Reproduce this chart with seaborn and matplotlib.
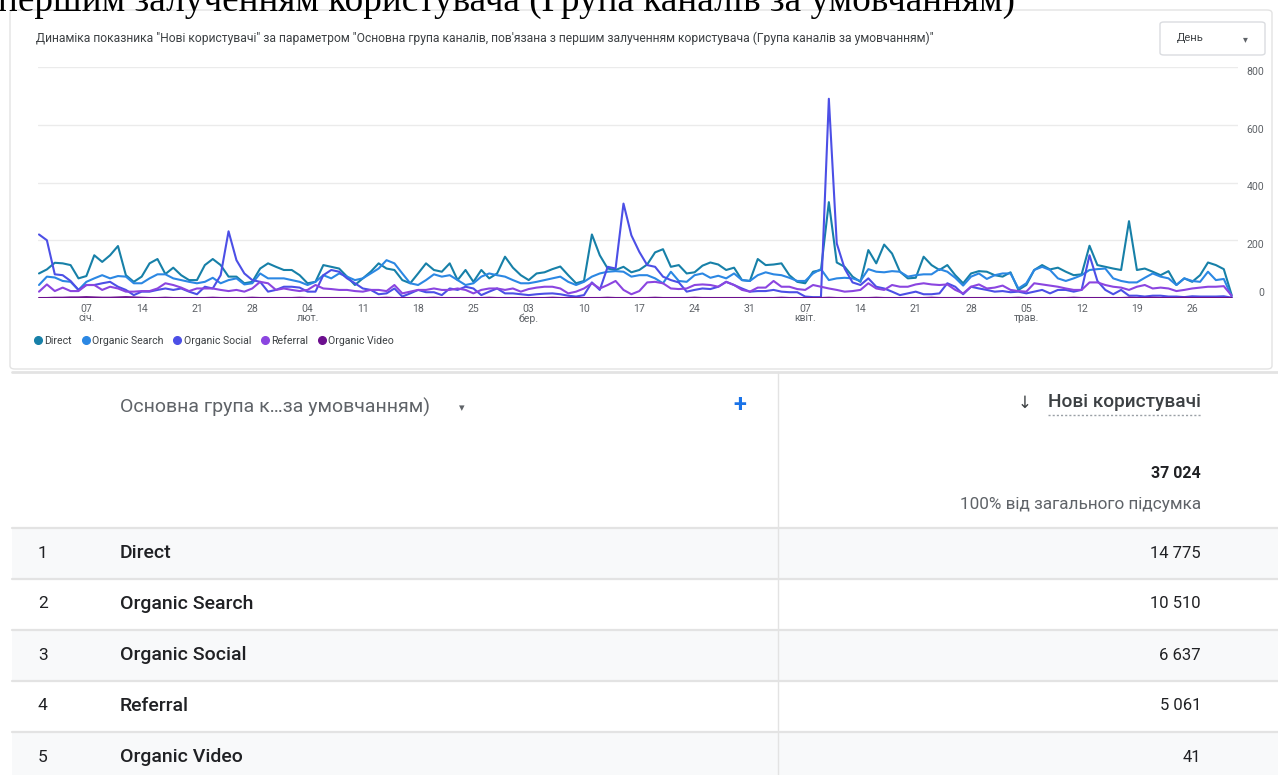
import numpy as np
import pandas as pd
import seaborn as sns
import matplotlib.pyplot as plt
from matplotlib.lines import Line2D
from matplotlib.patches import Rectangle, FancyBboxPatch

W, H = 1278, 775

# Дані з графіка (щоденні значення, 01.01 - 31.05.2024)
channels = ["Direct", "Organic Search", "Organic Social", "Referral", "Organic Video"]
colors = ["#1780a8", "#2b87e3", "#4c4fe6", "#8b45e0", "#6c0f8e"]
totals = ["14 775", "10 510", "6 637", "5 061", "41"]
total_all = "37 024"

direct = [85, 99, 122, 120, 114, 68, 76, 148, 125, 148, 180, 79, 56, 74, 120, 135, 83, 105, 79, 62,
          62, 114, 135, 114, 74, 74, 51, 56, 102, 120, 108,
          97, 97, 79, 51, 56, 114, 108, 102, 74, 45, 68, 91, 120, 102, 97, 62, 51, 85, 120, 97,
          91, 120, 62, 97, 56, 97, 68, 85, 143,
          105, 79, 62, 85, 89, 100, 109, 79, 51, 59, 220, 148, 102, 97, 108, 89, 97, 116, 158, 169,
          108, 114, 85, 89, 112, 123, 116, 97, 105, 62, 59,
          135, 114, 116, 120, 79, 56, 51, 91, 97, 332, 123, 108, 74, 56, 166, 120, 185, 154, 91, 68,
          70, 143, 114, 97, 114, 79, 51, 85, 93, 91, 79,
          74, 89, 28, 45, 97, 114, 99, 105, 91, 79, 82, 181, 114, 108, 102, 97, 266, 97, 102, 91,
          79, 93, 45, 68, 56, 79, 123, 114, 100, 10]
organic_search = [45, 74, 71, 59, 56, 28, 56, 68, 79, 68, 76, 74, 51, 51, 68, 82, 82, 68, 62, 56,
                  51, 56, 70, 51, 62, 68, 47, 51, 85, 68, 68,
                  68, 62, 56, 45, 56, 79, 68, 85, 74, 62, 68, 85, 102, 131, 120, 85, 51, 45, 62, 82,
                  74, 79, 62, 45, 51, 74, 85, 79, 74,
                  62, 51, 51, 56, 62, 68, 74, 56, 45, 56, 74, 85, 91, 93, 91, 74, 79, 79, 68, 51,
                  91, 59, 56, 79, 85, 70, 77, 68, 85, 62, 59,
                  79, 89, 82, 79, 70, 59, 59, 85, 100, 62, 68, 70, 68, 59, 100, 91, 89, 93, 91, 74,
                  79, 82, 82, 100, 91, 70, 43, 74, 85, 66, 79,
                  85, 85, 33, 51, 97, 108, 97, 68, 59, 68, 79, 97, 100, 102, 68, 59, 54, 54, 70, 85,
                  74, 68, 45, 68, 59, 56, 91, 62, 66, 5]
organic_social = [220, 200, 82, 79, 59, 28, 45, 45, 51, 56, 39, 28, 10, 22, 22, 28, 33, 28, 33, 22,
                  13, 39, 33, 79, 231, 131, 85, 62, 56, 22, 28,
                  39, 39, 36, 22, 22, 79, 97, 91, 68, 51, 33, 28, 13, 16, 33, 5, 16, 28, 20, 20,
                  10, 33, 28, 39, 33, 10, 22, 33, 16,
                  16, 13, 10, 13, 15, 16, 13, 8, 5, 10, 54, 28, 108, 102, 327, 217, 160, 114, 108, 74,
                  62, 54, 22, 28, 33, 31, 39, 56, 45, 33, 22,
                  24, 24, 28, 22, 20, 20, 5, 3, 3, 690, 189, 102, 54, 45, 68, 39, 33, 22, 10, 16,
                  22, 13, 13, 16, 51, 39, 13, 39, 33, 28, 22,
                  24, 20, 22, 16, 22, 28, 16, 28, 28, 22, 28, 148, 59, 28, 13, 28, 8, 8, 5, 8,
                  8, 5, 5, 3, 6, 5, 5, 5, 6, 1]
referral = [22, 47, 24, 36, 24, 24, 45, 45, 28, 39, 33, 22, 22, 24, 24, 33, 51, 45, 36, 24,
            33, 33, 33, 28, 24, 28, 22, 33, 56, 51, 28,
            33, 28, 24, 28, 45, 33, 31, 28, 28, 24, 22, 28, 28, 24, 45, 16, 22, 28, 28, 33,
            28, 28, 33, 28, 16, 28, 33, 33, 28,
            33, 22, 31, 36, 39, 39, 33, 16, 22, 33, 51, 33, 45, 59, 28, 13, 24, 54, 56, 51,
            33, 31, 33, 45, 47, 45, 39, 56, 45, 28, 22,
            36, 36, 59, 39, 39, 31, 28, 45, 39, 33, 28, 22, 24, 28, 51, 33, 28, 45, 39, 39,
            47, 51, 47, 45, 47, 28, 16, 39, 47, 33, 36,
            43, 28, 24, 22, 51, 47, 43, 39, 33, 28, 28, 54, 54, 45, 39, 36, 28, 39, 45, 33,
            36, 33, 24, 28, 33, 36, 39, 39, 41, 8]
organic_video = [0, 0, 1, 1, 2, 2, 3, 2, 1, 1, 2, 3, 2, 1, 0, 0, 1, 0, 0, 0,
                 0, 0, 1, 0, 0, 0, 0, 1, 0, 0, 0, 0, 0, 1, 0, 0, 0, 0, 0, 0,
                 0, 0, 0, 0, 1, 0, 0, 0, 0, 0, 1, 0, 0, 0, 0, 0, 0, 1, 0, 0,
                 0, 0, 0, 0, 0, 1, 0, 0, 0, 0, 0, 0, 1, 0, 0, 0, 0, 0, 1, 0,
                 0, 0, 0, 1, 0, 0, 0, 0, 0, 0, 0, 0, 0, 0, 1, 0, 0, 0, 0, 0,
                 1, 0, 0, 0, 0, 0, 1, 0, 0, 0, 0, 0, 0, 1, 0, 0, 0, 0, 0, 0,
                 0, 0, 0, 0, 1, 0, 0, 0, 0, 0, 0, 1, 0, 0, 0, 0, 0, 0, 1, 0,
                 0, 1, 0, 0, 0, 1, 0, 0, 0, 0, 0, 0]

dates = pd.date_range("2024-01-01", "2024-05-31", freq="D")
tick_dates = pd.date_range("2024-01-07", "2024-05-26", freq="7D")
month_names = {"2024-01-07": "січ.", "2024-02-04": "лют.", "2024-03-03": "бер.",
               "2024-04-07": "квіт.", "2024-05-05": "трав."}
y_ticks = [0, 200, 400, 600, 800]

title = ('Динаміка показника "Нові користувачі" за параметром "Основна група каналів, '
         'пов\'язана з першим залученням користувача (Група каналів за умовчанням)"')

df = pd.concat([pd.DataFrame({"date": dates, "users": vals, "channel": ch})
                for ch, vals in zip(channels, [direct, organic_search, organic_social,
                                               referral, organic_video])])

sns.set_theme(style="white")
plt.rcParams["font.family"] = ["Roboto", "DejaVu Sans"]

fig = plt.figure(figsize=(W / 100, H / 100), dpi=100)


def fx(x):
    return x / W


def fy(y):
    return 1 - y / H


# Обрізаний заголовок документа зверху
fig.text(fx(-2), fy(11), "першим залученням користувача (Група каналів за умовчанням)",
         family=["Liberation Serif"], fontsize=26.8, va="baseline", ha="left", color="black")

# Картка графіка
fig.patches.append(FancyBboxPatch((fx(10), fy(369)), fx(1262), 359 / H,
                                  boxstyle="round,pad=0,rounding_size=0.004",
                                  transform=fig.transFigure, facecolor="none",
                                  edgecolor="#e3e3e3", lw=1, zorder=-5))
fig.text(fx(36), fy(38), title, fontsize=8.7, color="#3c4043", va="center", ha="left")

# Випадаючий список "День"
fig.patches.append(FancyBboxPatch((fx(1160), fy(55)), fx(105), 33 / H,
                                  boxstyle="round,pad=0,rounding_size=0.003",
                                  transform=fig.transFigure, facecolor="none",
                                  edgecolor="#dadce0", lw=1, zorder=-5))
fig.text(fx(1177), fy(38), "День", fontsize=8, color="#3c4043", va="center")
fig.text(fx(1245), fy(39), "▾", fontsize=7, color="#5f6368", va="center", ha="center")

# Лінійний графік
ax = fig.add_axes([fx(38), fy(298), fx(1200), (298 - 67) / H])
sns.lineplot(data=df, x="date", y="users", hue="channel", hue_order=channels,
             palette=dict(zip(channels, colors)), lw=1.5, legend=False, ax=ax)
ax.set_ylim(0, 800)
ax.set_xlim(dates[0] - pd.Timedelta(hours=3), dates[0] + pd.Timedelta(days=151.8))
ax.set_yticks(y_ticks)
ax.yaxis.tick_right()
ax.tick_params(axis="y", length=0, pad=19, labelsize=7.6, labelcolor="#5f6368")
for v, lab in zip(y_ticks, ax.get_yticklabels()):
    lab.set_horizontalalignment("right")
    lab.set_verticalalignment("bottom" if v == 0 else "top")
ax.set_xticks(tick_dates)
ax.set_xticklabels([d.strftime("%d") + ("\n" + month_names[d.strftime("%Y-%m-%d")]
                                        if d.strftime("%Y-%m-%d") in month_names else "")
                    for d in tick_dates], linespacing=0.95)
ax.tick_params(axis="x", length=0, pad=4, labelsize=7.6, labelcolor="#5f6368")
ax.grid(axis="y", color="#ebebeb", lw=1)
ax.grid(axis="x", visible=False)
ax.set_xlabel("")
ax.set_ylabel("")
for s in ax.spines.values():
    s.set_visible(False)

handles = [Line2D([], [], marker="o", ls="", color=c, markersize=5.5) for c in colors]
fig.legend(handles, channels, loc="center left", bbox_to_anchor=(fx(34), fy(341)), ncol=5,
           frameon=False, fontsize=7.6, handletextpad=0.2, columnspacing=0.9,
           handlelength=0.8, borderpad=0, borderaxespad=0, labelcolor="#3c4043")

# Таблиця
fig.add_artist(Line2D([fx(12), 1], [fy(372), fy(372)], color="#e3e3e3", lw=2))
row_tops = [528, 579, 630, 681, 732]
for i, top in enumerate(row_tops):
    if i % 2 == 0:
        fig.patches.append(Rectangle((fx(12), fy(top + 51)), 1 - fx(12), 51 / H,
                                     transform=fig.transFigure, facecolor="#f8f9fa",
                                     edgecolor="none", zorder=-5))
    fig.add_artist(Line2D([fx(12), 1], [fy(top), fy(top)], color="#e3e3e3", lw=1.6))
fig.add_artist(Line2D([fx(778), fx(778)], [fy(372), 0], color="#e3e3e3", lw=1))

fig.text(fx(120), fy(407), "Основна група к…за умовчанням)", fontsize=14,
         color="#5f6368", va="center")
fig.text(fx(462), fy(408), "▾", fontsize=8, color="#5f6368", va="center", ha="center")
fig.text(fx(740), fy(405), "+", fontsize=17, color="#1a73e8", va="center", ha="center",
         fontweight="bold")

hdr = fig.text(fx(1201), fy(402), "Нові користувачі", fontsize=13.7, color="#3c4043",
               va="center", ha="right", fontweight="medium")
fig.canvas.draw()
bb = hdr.get_window_extent().transformed(fig.transFigure.inverted())
fig.text(bb.x0 - fx(17), fy(403), "↓", fontsize=12, color="#3c4043", va="center",
         ha="right", family=["DejaVu Sans"])
fig.add_artist(Line2D([bb.x0, fx(1201)], [fy(415), fy(415)], color="#9aa0a6", lw=1,
                      ls=(0, (1.5, 1.5))))

fig.text(fx(1201), fy(474), total_all, fontsize=11.5, color="#202124", va="center",
         ha="right", fontweight="bold")
fig.text(fx(1201), fy(505), "100% від загального підсумка", fontsize=12.3, color="#5f6368",
         va="center", ha="right")

for i, (ch, tot) in enumerate(zip(channels, totals)):
    yc = row_tops[i] + 25
    fig.text(fx(38), fy(yc), str(i + 1), fontsize=12.5, color="#202124", va="center")
    fig.text(fx(120), fy(yc), ch, fontsize=14, color="#202124", va="center",
             fontweight="medium")
    fig.text(fx(1201), fy(yc), tot, fontsize=12, color="#202124", va="center", ha="right")

fig.savefig("out.png", dpi=100, facecolor="white")
